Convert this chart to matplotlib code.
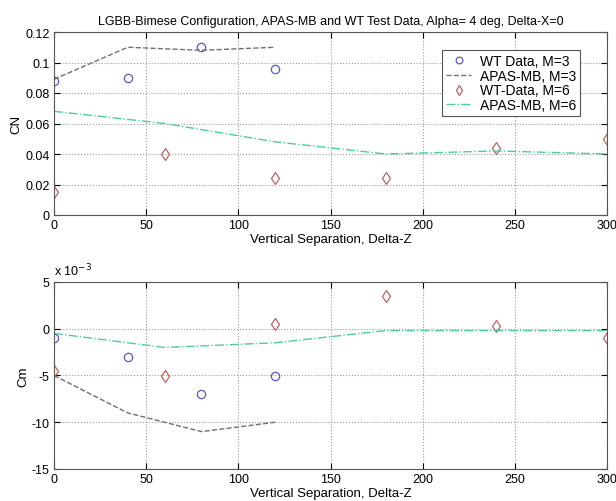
import numpy as np
import matplotlib
matplotlib.use('Agg')
import matplotlib.pyplot as plt

plt.rcParams['font.family'] = ['Liberation Sans', 'DejaVu Sans']
plt.rcParams['font.size'] = 9

# top panel, CN
x_wt3 = [0, 40, 80, 120]
cn_wt3 = [0.088, 0.090, 0.110, 0.096]
x_apas3 = [0, 40, 60, 80, 100, 120]
cn_apas3 = [0.089, 0.110, 0.109, 0.108, 0.109, 0.110]
x_wt6 = [0, 60, 120, 180, 240, 300]
cn_wt6 = [0.015, 0.040, 0.024, 0.024, 0.044, 0.050]
x_apas6 = [0, 60, 120, 180, 240, 300]
cn_apas6 = [0.068, 0.060, 0.048, 0.040, 0.042, 0.040]

# bottom panel, Cm
cm_wt3 = [-0.001, -0.003, -0.007, -0.005]
x_apas3_cm = [0, 40, 80, 120]
cm_apas3 = [-0.005, -0.009, -0.011, -0.010]
cm_wt6 = [-0.0045, -0.005, 0.0005, 0.0035, 0.0003, -0.001]
cm_apas6 = [-0.0005, -0.002, -0.0015, -0.0002, -0.0002, -0.0002]

c_circ = '#5a5ab4'
c_diam = '#b46464'
c_dash = '#707070'
c_dd = '#50c8aa'

fig = plt.figure(figsize=(6.16, 5.02), dpi=100)
ax1 = fig.add_axes([54/616, 1-216/502, 553/616, 183/502])
ax2 = fig.add_axes([54/616, 1-470/502, 553/616, 187/502])

def style(ax):
    ax.grid(True, linestyle=':', color='#999999', linewidth=0.8)
    ax.tick_params(direction='in', top=True, right=True, length=4, pad=3)
    ax.set_xlim(0, 300)
    ax.set_xticks([0, 50, 100, 150, 200, 250, 300])
    ax.set_xlabel('Vertical Separation, Delta-Z', labelpad=1, fontsize=9.5)
    for s in ax.spines.values():
        s.set_color('#555555')

ax1.plot(x_wt3, cn_wt3, 'o', mfc='none', mec=c_circ, ms=6, mew=0.9, label='WT Data, M=3')
ax1.plot(x_apas3, cn_apas3, '--', color=c_dash, lw=1, label='APAS-MB, M=3')
ax1.plot(x_wt6, cn_wt6, 'd', mfc='none', mec=c_diam, ms=6.5, mew=0.9, label='WT-Data, M=6')
ax1.plot(x_apas6, cn_apas6, '-.', color=c_dd, lw=1, label='APAS-MB, M=6')
style(ax1)
ax1.set_ylim(0, 0.12)
ax1.set_yticks(np.arange(0, 0.121, 0.02))
ax1.set_yticklabels(['0', '0.02', '0.04', '0.06', '0.08', '0.1', '0.12'])
ax1.set_ylabel('CN', labelpad=2, fontsize=9.5)
ax1.set_title('LGBB-Bimese Configuration, APAS-MB and WT Test Data, Alpha= 4 deg, Delta-X=0', fontsize=9, pad=6)
leg = ax1.legend(loc='upper right', bbox_to_anchor=(0.964, 0.94), fancybox=False, framealpha=1,
                 edgecolor='#555555', handlelength=1.8, handletextpad=0.6, borderpad=0.3,
                 labelspacing=0.05, fontsize=10, markerscale=0.8)
leg.get_frame().set_linewidth(0.8)

ax2.plot(x_wt3, cm_wt3, 'o', mfc='none', mec=c_circ, ms=6, mew=0.9)
ax2.plot(x_apas3_cm, cm_apas3, '--', color=c_dash, lw=1)
ax2.plot(x_wt6, cm_wt6, 'd', mfc='none', mec=c_diam, ms=6.5, mew=0.9)
ax2.plot(x_apas6, cm_apas6, '-.', color=c_dd, lw=1)
style(ax2)
ax2.set_ylim(-0.015, 0.005)
ax2.set_yticks(np.arange(-0.015, 0.0051, 0.005))
ax2.set_yticklabels(['-15', '-10', '-5', '0', '5'])
ax2.set_ylabel('Cm', labelpad=2, fontsize=9.5)
ax2.text(0.0, 1.02, 'x 10$^{-3}$', transform=ax2.transAxes, fontsize=9, va='bottom', ha='left')

fig.savefig('out.png', dpi=100)
